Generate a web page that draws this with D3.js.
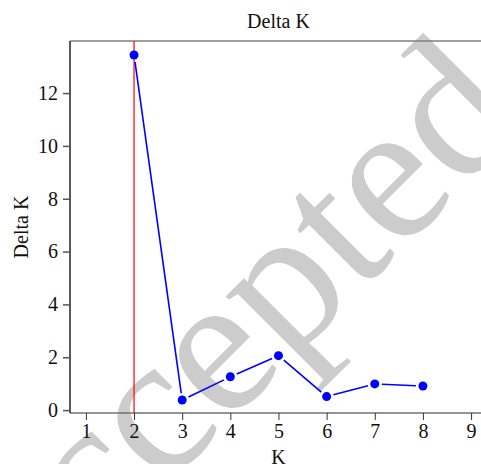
<!DOCTYPE html>
<html>
<head>
<meta charset="utf-8">
<script src="https://cdn.jsdelivr.net/npm/d3@7"></script>
</head>
<body style="margin:0">
<script>
// data
var kValues = [2, 3, 4, 5, 6, 7, 8];
var deltaK = [13.44, 0.38, 1.26, 2.06, 0.51, 0.99, 0.91];
var xTicks = [1, 2, 3, 4, 5, 6, 7, 8, 9];
var yTicks = [0, 2, 4, 6, 8, 10, 12];
var bestK = 2;

var serif = "'Liberation Serif'";

// svg parms
var svgWidth = 481;
var svgHeight = 464;

var margin = { top: 41, right: -5, bottom: 51, left: 70 };
var width = svgWidth - margin.left - margin.right;
var height = svgHeight - margin.top - margin.bottom;

var svg = d3.select("body")
  .append("svg")
  .attr("width", svgWidth)
  .attr("height", svgHeight)
  .style("font-family", serif);

// watermark, sits under everything
svg.append("text")
  .attr("transform", "translate(-3, 655) rotate(-45)")
  .attr("font-size", 200)
  .style("font-family", serif)
  .attr("fill", "#cccccc")
  .text("Accepted");

var chartGroup = svg.append("g")
  .attr("transform", `translate(${margin.left}, ${margin.top})`);

// scales
var xScale = d3.scaleLinear()
  .domain([0.67, 9.31])
  .range([0, width]);

var yScale = d3.scaleLinear()
  .domain([-0.11, 13.97])
  .range([height, 0]);

// frame (top + right in grey)
chartGroup.append("path")
  .attr("d", `M0,0H${width}V${height}`)
  .attr("fill", "none")
  .attr("stroke", "#808080")
  .attr("stroke-width", 1.5);

// axes
var xAxis = d3.axisBottom(xScale).tickValues(xTicks).tickSize(7).tickPadding(4).tickFormat(d3.format("d"));
var yAxis = d3.axisLeft(yScale).tickValues(yTicks).tickSize(7).tickPadding(5).tickFormat(d3.format("d"));

var gx = chartGroup.append("g")
  .attr("transform", `translate(0, ${height})`)
  .call(xAxis);
gx.attr("font-family", null).attr("font-size", null);
gx.select(".domain").attr("d", `M0,0H${width}`).attr("stroke", "#707070").attr("stroke-width", 1.5);
gx.selectAll(".tick line").attr("stroke", "#333").attr("stroke-width", 1);
gx.selectAll(".tick text").attr("font-size", 20).style("font-family", serif).attr("fill", "#111");

var gy = chartGroup.append("g")
  .call(yAxis);
gy.attr("font-family", null).attr("font-size", null);
gy.select(".domain").attr("d", `M0,0V${height}`).attr("stroke", "#222").attr("stroke-width", 1.5);
gy.selectAll(".tick line").attr("stroke", "#555").attr("stroke-width", 1.5);
gy.selectAll(".tick text").attr("font-size", 20).style("font-family", serif).attr("fill", "#111");

// red line at chosen K
chartGroup.append("line")
  .attr("x1", xScale(bestK))
  .attr("x2", xScale(bestK))
  .attr("y1", 0)
  .attr("y2", height)
  .attr("stroke", "#ff0000")
  .attr("stroke-width", 1.2);

// line segments with small gaps round the points (type "b")
var pts = kValues.map(function(k, i) { return [xScale(k), yScale(deltaK[i])]; });
var gap = 7;
var segs = d3.pairs(pts).map(function(p) {
  var dx = p[1][0] - p[0][0], dy = p[1][1] - p[0][1];
  var len = Math.sqrt(dx * dx + dy * dy);
  var ux = dx / len, uy = dy / len;
  return [p[0][0] + ux * gap, p[0][1] + uy * gap, p[1][0] - ux * gap, p[1][1] - uy * gap];
});

chartGroup.selectAll(".seg")
  .data(segs)
  .enter()
  .append("line")
  .attr("class", "seg")
  .attr("x1", d => d[0])
  .attr("y1", d => d[1])
  .attr("x2", d => d[2])
  .attr("y2", d => d[3])
  .attr("stroke", "#0000ff")
  .attr("stroke-width", 1.6);

chartGroup.selectAll("circle")
  .data(kValues)
  .enter()
  .append("circle")
  .attr("cx", d => xScale(d))
  .attr("cy", (d, i) => yScale(deltaK[i]))
  .attr("r", 4.5)
  .attr("fill", "#0000ff");

// titles
svg.append("text")
  .attr("x", margin.left + xScale(5))
  .attr("y", 28)
  .attr("text-anchor", "middle")
  .attr("font-size", 20)
  .style("font-family", serif)
  .attr("fill", "#111")
  .text("Delta K");

svg.append("text")
  .attr("x", margin.left + xScale(5))
  .attr("y", 464)
  .attr("text-anchor", "middle")
  .attr("font-size", 20)
  .style("font-family", serif)
  .attr("fill", "#111")
  .text("K");

svg.append("text")
  .attr("transform", `translate(28, ${margin.top + height / 2}) rotate(-90)`)
  .attr("text-anchor", "middle")
  .attr("font-size", 20)
  .style("font-family", serif)
  .attr("fill", "#111")
  .text("Delta K");
</script>
</body>
</html>
